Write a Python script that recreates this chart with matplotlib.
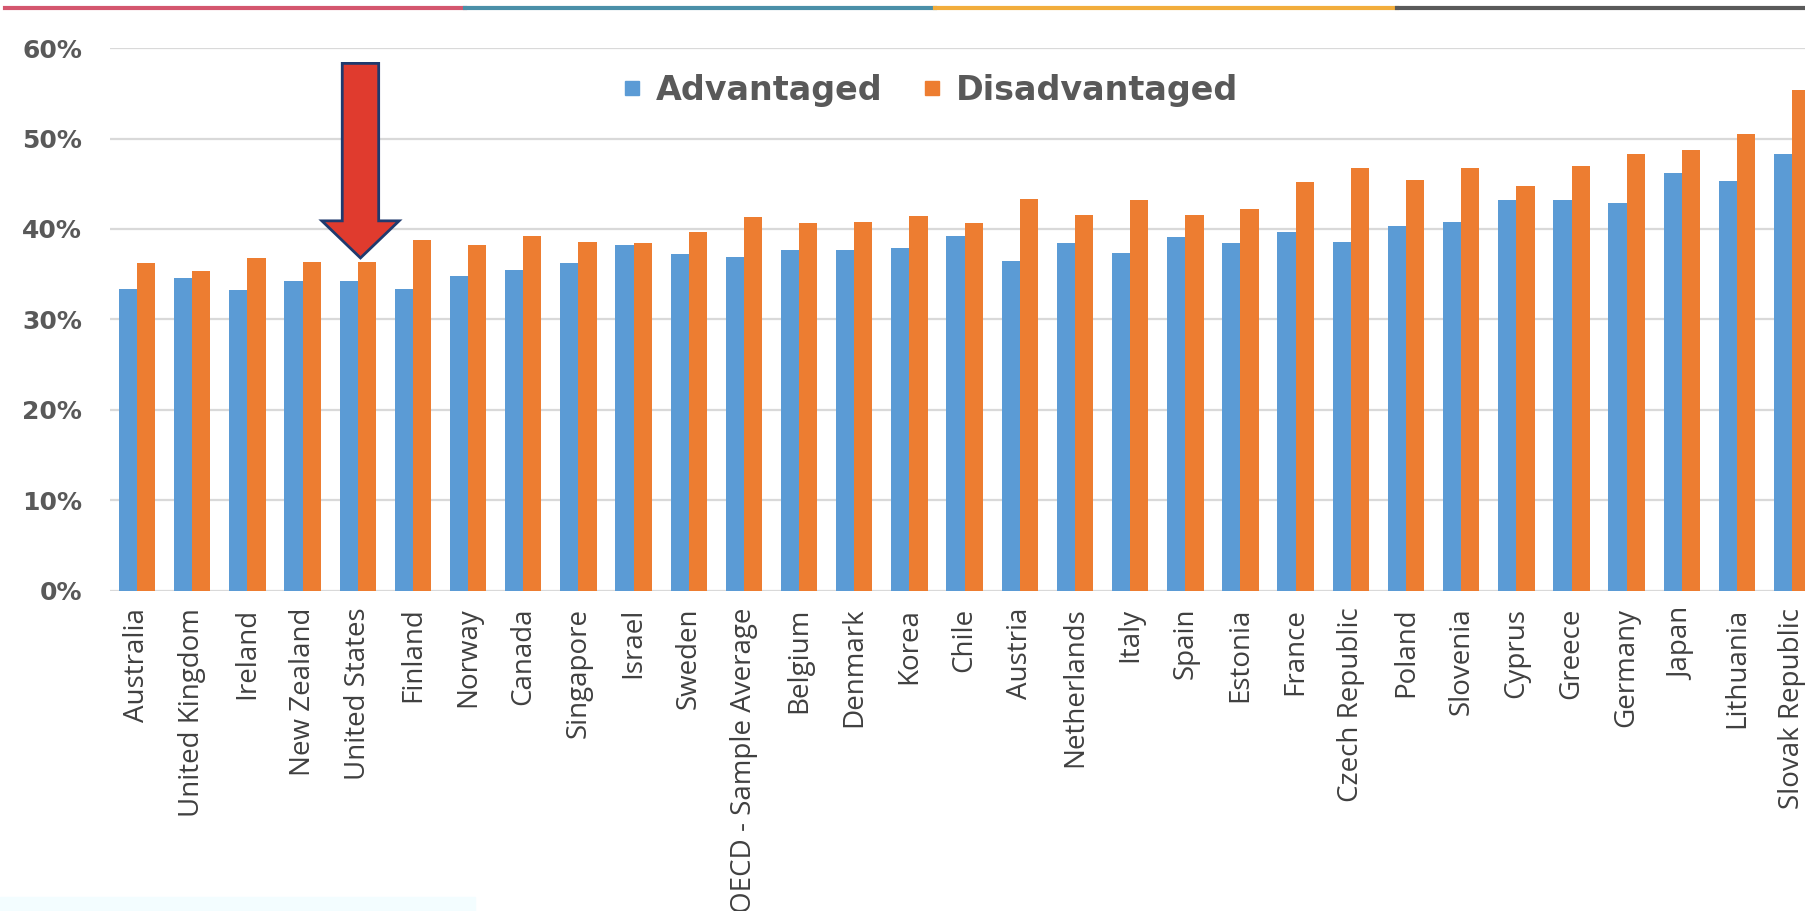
import matplotlib.pyplot as plt
import numpy as np
from matplotlib.lines import Line2D
from matplotlib.patches import FancyArrow, Rectangle

countries = ["Australia", "United Kingdom", "Ireland", "New Zealand", "United States",
             "Finland", "Norway", "Canada", "Singapore", "Israel", "Sweden",
             "OECD - Sample Average", "Belgium", "Denmark", "Korea", "Chile", "Austria",
             "Netherlands", "Italy", "Spain", "Estonia", "France", "Czech Republic",
             "Poland", "Slovenia", "Cyprus", "Greece", "Germany", "Japan", "Lithuania",
             "Slovak Republic"]
advantaged = [33.4, 34.6, 33.3, 34.3, 34.3, 33.4, 34.8, 35.5, 36.2, 38.2, 37.2,
              36.9, 37.7, 37.7, 37.9, 39.2, 36.5, 38.5, 37.3, 39.1, 38.4, 39.7,
              38.6, 40.3, 40.8, 43.2, 43.2, 42.9, 46.2, 45.3, 48.3]
disadvantaged = [36.2, 35.4, 36.8, 36.3, 36.3, 38.8, 38.2, 39.2, 38.6, 38.4, 39.7,
                 41.3, 40.7, 40.8, 41.4, 40.7, 43.3, 41.6, 43.2, 41.6, 42.2, 45.2,
                 46.7, 45.4, 46.7, 44.8, 47.0, 48.3, 48.7, 50.5, 55.4]
yticks = [0, 10, 20, 30, 40, 50, 60]
highlight = "United States"

blue = '#5b9bd5'
orange = '#ed7d31'
txt = '#595959'

fig = plt.figure(figsize=(18.06, 9.11), dpi=100)
ax = fig.add_axes([0.0609, 0.3513, 0.9391, 0.596])

x = np.arange(len(countries))
w = 0.33
ax.bar(x - w / 2, advantaged, w, color=blue, zorder=2)
ax.bar(x + w / 2, disadvantaged, w, color=orange, zorder=2)

ax.set_xlim(-0.49, len(countries) - 1 + 0.25)
ax.set_ylim(0, 60)
ax.set_yticks(yticks)
ax.set_yticklabels([f'{v}%' for v in yticks], fontsize=18, fontweight='bold',
                   color=txt, family='DejaVu Sans')
ax.set_xticks(x)
ax.set_xticklabels(countries, rotation=90, fontsize=20, family='Open Sans',
                   color='#404040', va='top', ha='center')
ax.tick_params(axis='both', length=0)
ax.tick_params(axis='y', pad=20)
ax.tick_params(axis='x', pad=12)
ax.grid(axis='y', color='#d9d9d9', linewidth=1.6, zorder=0)
for s in ax.spines.values():
    s.set_visible(False)

# red arrow pointing at the highlighted country
i = countries.index(highlight)
arrow = FancyArrow(i + 0.05, 58.3, 0, 36.8 - 58.3, width=0.66, head_width=1.4,
                   head_length=4.1, length_includes_head=True,
                   facecolor='#e03b2e', edgecolor='#1f3a6e', linewidth=2, zorder=5)
ax.add_patch(arrow)

handles = [Line2D([], [], marker='s', linestyle='', color=blue, markersize=10),
           Line2D([], [], marker='s', linestyle='', color=orange, markersize=10)]
ax.legend(handles, ['Advantaged', 'Disadvantaged'], loc='center',
          bbox_to_anchor=(0.515, 0.901), bbox_transform=fig.transFigure, ncol=2,
          frameon=False, handlelength=0.6, handletextpad=0.4, columnspacing=1.2,
          prop={'family': 'DejaVu Sans', 'weight': 'bold', 'size': 24},
          labelcolor=txt)

# coloured strip at the top of the slide
segs = [(5, 465, '#d4566e'), (465, 935, '#4a8fa8'), (935, 1397, '#f2ad3c'),
        (1397, 1806, '#5a5a5a')]
for a, b, c in segs:
    fig.add_artist(Line2D([a / 1806, b / 1806], [0.991, 0.991], color=c,
                          linewidth=3, transform=fig.transFigure))
fig.add_artist(Rectangle((0, 0), 475 / 1806, 14 / 911, color='#f3fdff',
                         transform=fig.transFigure, zorder=0))

fig.savefig('out.png', dpi=100)
